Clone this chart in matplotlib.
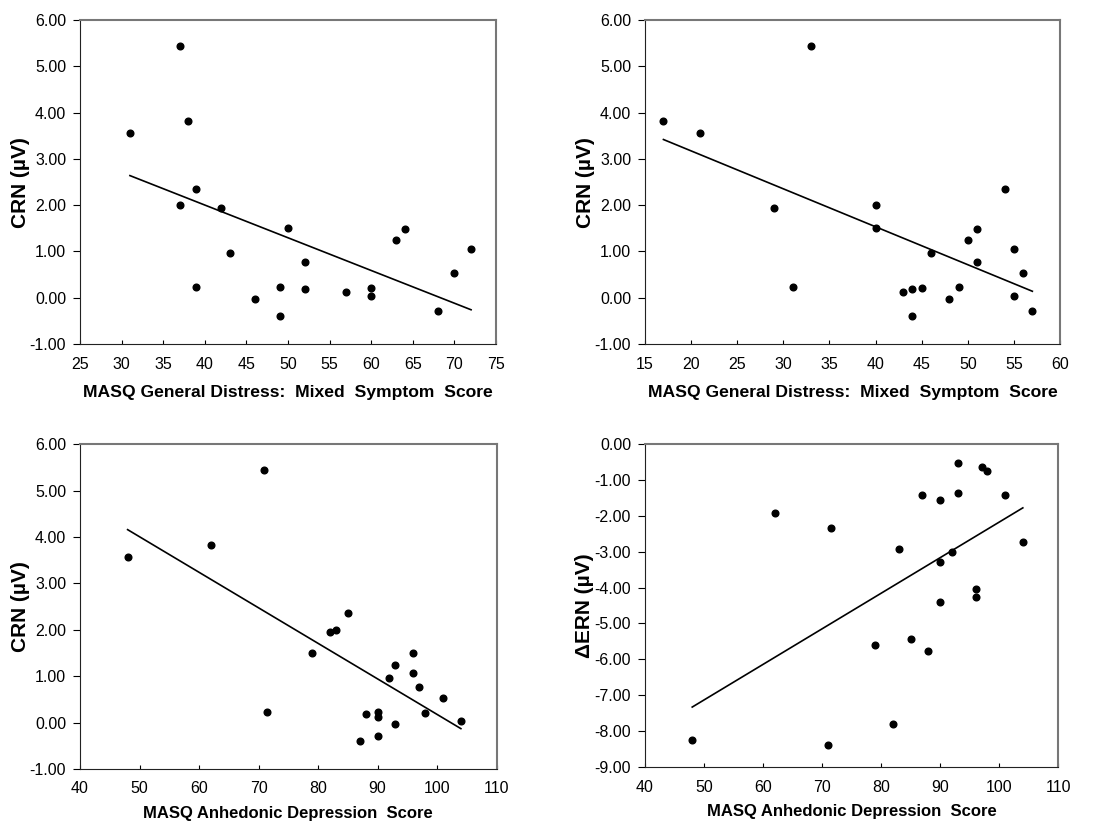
import numpy as np
from matplotlib import pyplot as plt

plt.rcParams['font.family'] = ['Liberation Sans', 'DejaVu Sans']

# CRN per subject (shared by the three CRN panels, each in its own order)
gd_mixed_a = [31, 37, 38, 37, 39, 39, 42, 43, 46, 49, 49, 50, 52, 52, 57, 60, 60, 63, 64, 68, 70, 72]
crn_a = [3.57, 5.45, 3.83, 2.00, 2.36, 0.23, 1.95, 0.97, -0.02, 0.23, -0.39, 1.51, 0.77, 0.18,
         0.12, 0.21, 0.03, 1.25, 1.49, -0.28, 0.53, 1.06]

gd_mixed_b = [17, 21, 29, 31, 33, 40, 40, 43, 44, 44, 45, 46, 48, 49, 50, 51, 51, 54, 55, 55, 56, 57]
crn_b = [3.83, 3.57, 1.95, 0.24, 5.45, 2.00, 1.51, 0.12, 0.18, -0.39, 0.21, 0.97, -0.02, 0.23,
         1.25, 1.49, 0.77, 2.36, 1.06, 0.03, 0.53, -0.28]

anhedonic = [48, 62, 71, 71.5, 79, 82, 83, 85, 87, 88, 90, 90, 90, 92, 93, 93, 96, 96, 97, 98, 101, 104]
crn_c = [3.57, 3.83, 5.45, 0.23, 1.51, 1.95, 2.00, 2.36, -0.39, 0.18, 0.23, 0.12, -0.28, 0.97,
         1.25, -0.02, 1.49, 1.06, 0.77, 0.21, 0.53, 0.03]

anhedonic_d = [48, 62, 71, 71.5, 79, 82, 83, 85, 87, 88, 90, 90, 90, 92, 93, 93, 96, 96, 97, 98, 101, 104]
dern = [-8.25, -1.93, -8.40, -2.35, -5.60, -7.80, -2.92, -5.43, -1.42, -5.77, -1.57, -3.28, -4.40,
        -3.02, -0.52, -1.38, -4.05, -4.27, -0.63, -0.75, -1.43, -2.72]

# fitted lines, end points
fit_a = ([31, 72], [2.64, -0.26])
fit_b = ([17, 57], [3.42, 0.14])
fit_c = ([48, 104], [4.16, -0.13])
fit_d = ([48, 104], [-7.33, -1.78])

xlab_gd = "MASQ General Distress:  Mixed  Symptom  Score"
xlab_ad = "MASQ Anhedonic Depression  Score"

panels = [
    ([0.0724, 0.5815, 0.3765, 0.394], gd_mixed_a, crn_a, fit_a, (25, 75, 5), (-1, 6, 1), xlab_gd, 12.6, 10, "CRN (\u00b5V)"),
    ([0.5837, 0.5815, 0.3756, 0.394], gd_mixed_b, crn_b, fit_b, (15, 60, 5), (-1, 6, 1), xlab_gd, 12.6, 10, "CRN (\u00b5V)"),
    ([0.0724, 0.0645, 0.3770, 0.395], anhedonic, crn_c, fit_c, (40, 110, 10), (-1, 6, 1), xlab_ad, 12.0, 7, "CRN (\u00b5V)"),
    ([0.5837, 0.0669, 0.3740, 0.393], anhedonic_d, dern, fit_d, (40, 110, 10), (-9, 0, 1), xlab_ad, 12.0, 7, "\u0394ERN (\u00b5V)"),
]

fig = plt.figure(figsize=(11.05, 8.22), dpi=100)
for rect, xs, ys, fit, xr, yr, xlab, xfs, xpad, ylab in panels:
    ax = fig.add_axes(rect)
    ax.plot(fit[0], fit[1], color='black', lw=1.2)
    ax.plot(xs, ys, 'o', color='black', markersize=4.8)
    ax.set_xlim(xr[0], xr[1])
    ax.set_ylim(yr[0], yr[1])
    ax.set_xticks(np.arange(xr[0], xr[1] + 0.1, xr[2]))
    ax.set_yticks(np.arange(yr[0], yr[1] + 0.1, yr[2]))
    ax.yaxis.set_major_formatter(plt.FuncFormatter(lambda v, p: "%.2f" % v))
    ax.tick_params(axis='x', direction='in', length=3, labelsize=11.5, pad=9)
    ax.tick_params(axis='y', direction='out', length=5, labelsize=11.5, pad=5)
    for s in ['left', 'bottom']:
        ax.spines[s].set_color('#222222')
    for s in ['top', 'right']:
        ax.spines[s].set_color('#777777')
        ax.spines[s].set_linewidth(1.5)
    ax.set_xlabel(xlab, fontsize=xfs, fontweight='bold', labelpad=xpad)
    ax.set_ylabel(ylab, fontsize=15, fontweight='bold', labelpad=0)

plt.savefig("out.png", dpi=100)
